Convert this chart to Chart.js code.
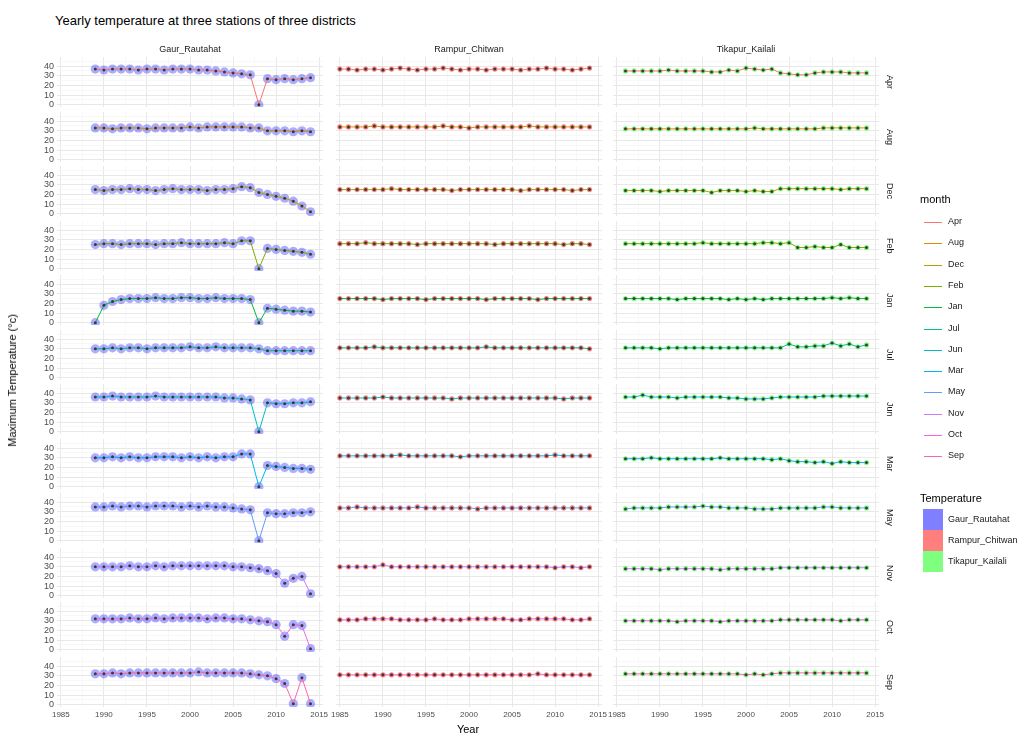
<!DOCTYPE html>
<html>
<head>
<meta charset="utf-8">
<script src="https://cdn.jsdelivr.net/npm/chart.js@4.4.1/dist/chart.umd.min.js"></script>
<style>
  body { margin: 0; background: #fff; font-family: "Liberation Sans", Arial, sans-serif; }
  #wrap { position: relative; width: 1033px; height: 737px; overflow: hidden; }
  #wrap canvas { position: absolute; }
  .txt { position: absolute; color: #1a1a1a; white-space: nowrap; }
  .rstrip { position: absolute; display: flex; align-items: center; justify-content: center; width: 14px; }
  .rstrip span { writing-mode: vertical-rl; font-size: 9px; color: #1a1a1a; }
</style>
</head>
<body>
<div id="wrap"></div>
<script>
// facets
const months = ['Apr', 'Aug', 'Dec', 'Feb', 'Jan', 'Jul', 'Jun', 'Mar', 'May', 'Nov', 'Oct', 'Sep'];
const stations = ['Gaur_Rautahat', 'Rampur_Chitwan', 'Tikapur_Kailali'];
const monthColors = ['#F8766D', '#DE8C00', '#B79F00', '#7CAE00', '#00BA38', '#00C08B',
                     '#00BFC4', '#00B4F0', '#619CFF', '#C77CFF', '#F564E3', '#FF64B0'];
const stationFills = ['rgba(0,0,255,0.5)', 'rgba(255,0,0,0.5)', 'rgba(0,255,0,0.5)'];
const xTickLabels = [1985, 1990, 1995, 2000, 2005, 2010, 2015];
const yTickLabels = [0, 10, 20, 30, 40];

// years per station
const gaurYears = [1989,1990,1991,1992,1993,1994,1995,1996,1997,1998,1999,2000,2001,2002,
                   2003,2004,2005,2006,2007,2008,2009,2010,2011,2012,2013,2014];
const rampurYears = [1985,1986,1987,1988,1989,1990,1991,1992,1993,1994,1995,1996,1997,1998,1999,
                     2000,2001,2002,2003,2004,2005,2006,2007,2008,2009,2010,2011,2012,2013,2014];
const tikapurYears = [1986,1987,1988,1989,1990,1991,1992,1993,1994,1995,1996,1997,1998,1999,
                      2000,2001,2002,2003,2004,2005,2006,2007,2008,2009,2010,2011,2012,2013,2014];

// Gaur, Rautahat
const gaurApr = [37,36,37,37,37,36,37,37,36,37,37,37,36,36,35,34,33,32,31,0,27,26,27,26,27,28];
const gaurAug = [33,33,32,33,33,33,32,33,33,33,33,34,33,34,34,34,34,34,33,33,30,30,30,29,30,29];
const gaurDec = [25,24,25,25,26,25,25,24,25,26,25,25,25,24,25,25,26,28,27,22,20,18,16,13,8,2];
const gaurFeb = [25,26,26,25,26,26,26,25,26,26,27,26,26,26,26,27,26,29,29,0,21,20,19,18,17,15];
const gaurJan = [0,18,22,24,25,25,25,26,25,25,26,26,25,25,26,25,25,25,24,0,15,14,13,12,12,11];
const gaurJul = [30,30,31,30,31,31,30,31,31,31,31,32,31,31,32,31,31,31,31,30,28,28,28,28,28,28];
const gaurJun = [36,36,37,36,36,36,36,37,36,36,36,36,36,36,36,35,35,34,33,0,30,29,29,30,30,31];
const gaurMar = [30,30,31,30,31,30,30,31,31,31,30,31,30,31,30,31,31,34,34,0,22,21,20,19,19,18];
const gaurMay = [35,35,36,35,36,36,35,36,36,36,35,36,35,36,35,35,34,33,32,0,29,28,28,29,29,30];
const gaurNov = [30,30,30,30,31,30,30,31,30,31,31,31,31,31,31,31,30,30,29,28,26,23,13,18,20,2];
const gaurOct = [32,32,32,32,33,32,32,33,32,33,33,33,33,32,33,33,32,32,31,30,29,26,14,26,25,1];
const gaurSep = [32,32,33,32,33,33,33,33,33,33,33,33,34,33,33,33,33,33,32,31,30,27,22,1,28,1];

// Rampur, Chitwan
const rampurApr = [37,37,36,37,37,36,37,38,37,36,37,37,38,37,36,37,37,36,37,37,37,36,37,37,38,37,37,36,37,38];
const rampurAug = [34,34,34,34,35,34,34,34,34,34,34,34,35,34,34,33,34,34,34,34,34,34,35,34,34,34,34,34,34,34];
const rampurDec = [25,25,25,25,25,25,26,25,25,25,25,25,25,24,25,25,25,25,25,25,25,24,25,25,25,25,25,24,25,25];
const rampurFeb = [26,26,26,27,26,26,26,26,26,25,26,26,26,26,26,26,26,26,25,26,26,26,26,26,26,26,25,26,26,25];
const rampurJan = [25,25,25,25,25,24,25,25,25,25,24,25,25,25,25,25,25,24,25,25,25,25,25,24,25,25,25,25,25,25];
const rampurJul = [31,31,31,31,32,31,31,31,31,31,31,31,31,31,31,31,31,32,31,31,31,31,31,31,31,31,31,31,31,30];
const rampurJun = [35,35,35,35,35,36,35,35,35,35,35,35,35,34,35,35,35,35,35,35,35,35,35,35,35,35,34,35,35,35];
const rampurMar = [32,32,32,32,32,32,32,33,32,32,32,32,32,32,31,32,32,32,32,32,32,32,32,32,32,33,32,32,32,32];
const rampurMay = [34,34,35,34,34,34,34,34,34,35,34,34,34,34,34,34,33,34,34,34,34,34,34,34,34,34,34,34,34,34];
const rampurNov = [30,30,30,30,30,32,30,30,30,30,30,30,30,30,30,30,30,30,30,30,30,30,30,30,30,29,30,30,29,30];
const rampurOct = [31,31,31,32,32,32,32,31,31,31,31,32,31,31,31,32,32,32,32,32,31,31,32,32,32,32,32,31,31,32];
const rampurSep = [31,31,31,31,31,31,31,31,31,31,31,31,31,31,31,31,31,31,31,31,31,31,31,32,31,31,31,31,31,31];

// Tikapur, Kailali
const tikapurApr = [35,35,35,35,35,36,35,35,35,35,34,34,36,35,38,37,36,37,33,32,31,31,33,34,34,34,33,33,33];
const tikapurAug = [32,32,32,32,32,32,32,32,32,32,32,32,32,32,32,33,32,32,32,32,32,32,32,33,33,33,33,33,33];
const tikapurDec = [24,24,24,24,23,24,24,24,24,24,22,24,24,24,23,24,23,23,26,26,26,26,26,26,26,25,26,26,26];
const tikapurFeb = [26,26,26,26,26,26,26,26,26,27,26,26,26,26,26,26,27,27,26,27,22,22,23,22,22,25,22,22,22];
const tikapurJan = [25,25,25,25,25,25,24,25,25,25,25,25,24,25,24,25,24,25,25,25,25,25,25,25,26,25,26,25,25];
const tikapurJul = [31,31,31,31,30,31,31,31,31,31,31,31,31,31,31,31,31,31,31,35,32,32,33,33,36,33,35,32,34];
const tikapurJun = [36,36,38,36,36,36,35,36,36,36,36,36,35,35,34,34,34,35,36,36,36,36,36,37,37,37,37,37,37];
const tikapurMar = [29,29,29,30,29,29,29,29,29,29,29,30,29,29,29,29,29,28,29,27,26,26,25,26,24,26,25,25,25];
const tikapurMay = [33,34,34,34,34,35,35,35,35,36,35,35,34,34,34,33,33,33,34,34,34,34,34,35,35,34,34,34,34];
const tikapurNov = [28,28,28,28,27,28,28,28,28,28,28,27,28,28,28,28,28,28,29,29,29,29,29,29,29,29,29,29,29];
const tikapurOct = [30,30,30,30,30,30,29,30,30,30,30,29,30,30,30,30,30,30,31,31,31,31,31,31,31,30,31,31,31];
const tikapurSep = [32,32,32,32,32,32,32,32,32,32,32,32,32,32,31,32,31,32,33,33,33,33,33,33,33,33,33,33,33];

const stationYears = [gaurYears, rampurYears, tikapurYears];
const stationValues = [
  [gaurApr, gaurAug, gaurDec, gaurFeb, gaurJan, gaurJul, gaurJun, gaurMar, gaurMay, gaurNov, gaurOct, gaurSep],
  [rampurApr, rampurAug, rampurDec, rampurFeb, rampurJan, rampurJul, rampurJun, rampurMar, rampurMay, rampurNov, rampurOct, rampurSep],
  [tikapurApr, tikapurAug, tikapurDec, tikapurFeb, tikapurJan, tikapurJul, tikapurJun, tikapurMar, tikapurMay, tikapurNov, tikapurOct, tikapurSep]
];

// layout of the facet grid
const PANEL_X = [57, 336, 613];
const PANEL_W = 266;
const TOP0 = 57;
const PITCH = 54.5;
const PANEL_H = 50;
const M = 14;          // canvas margin so edge labels are not cut
const YAX_W = 30;
const XAX_H = 16;

// grid values: labelled ticks plus the minor lines half way between
const xGrid = [];
xTickLabels.forEach((v, i) => { xGrid.push(v); if (i < xTickLabels.length - 1) xGrid.push(v + 2.5); });
const yGrid = [];
yTickLabels.forEach(v => { yGrid.push(v); yGrid.push(v + 5); });

const wrap = document.getElementById('wrap');

function addText(txt, css) {
  const d = document.createElement('div');
  d.className = 'txt';
  d.textContent = txt;
  Object.assign(d.style, css);
  wrap.appendChild(d);
  return d;
}

months.forEach((m, r) => {
  stations.forEach((s, c) => {
    const left = c === 0;
    const bottom = r === months.length - 1;
    const cv = document.createElement('canvas');
    const extraL = left ? YAX_W : 0;
    const extraB = bottom ? XAX_H : 0;
    const top = Math.round(TOP0 + r * PITCH);
    cv.width = PANEL_W + 2 * M + extraL;
    cv.height = PANEL_H + 2 * M + extraB;
    cv.style.left = (PANEL_X[c] - M - extraL) + 'px';
    cv.style.top = (top - M) + 'px';
    wrap.appendChild(cv);

    const pts = stationYears[c].map((yr, i) => ({ x: yr, y: stationValues[c][r][i] }));

    new Chart(cv, {
      type: 'line',
      data: {
        datasets: [
          {
            data: pts,
            borderColor: monthColors[r],
            borderWidth: 1,
            pointRadius: 1.5,
            pointBackgroundColor: '#3a3a3a',
            pointBorderWidth: 0,
            order: 0
          },
          {
            data: pts,
            showLine: false,
            pointRadius: left ? 4.6 : 2.6,
            pointBackgroundColor: left ? 'rgba(40,40,255,0.38)' : stationFills[c],
            pointBorderWidth: 0,
            order: 1
          }
        ]
      },
      options: {
        responsive: false,
        animation: false,
        events: [],
        layout: { padding: M },
        plugins: { legend: { display: false }, tooltip: { enabled: false } },
        scales: {
          x: {
            type: 'linear',
            min: 1984.55,
            max: 2015.45,
            border: { display: false },
            grid: {
              drawTicks: false,
              color: ctx => xTickLabels.includes(ctx.tick.value) ? '#e8e8e8' : '#f3f3f3',
              lineWidth: ctx => xTickLabels.includes(ctx.tick.value) ? 1 : 0.6
            },
            afterBuildTicks: sc => { sc.ticks = xGrid.map(v => ({ value: v })); },
            ticks: {
              display: bottom,
              autoSkip: false,
              maxRotation: 0,
              padding: 3,
              color: '#4d4d4d',
              font: { family: 'Liberation Sans', size: 8 },
              callback: v => xTickLabels.includes(v) ? String(v) : ''
            },
            afterFit: sc => { sc.height = bottom ? XAX_H : 0; sc.paddingLeft = 0; sc.paddingRight = 0; }
          },
          y: {
            min: -2.4,
            max: 49.5,
            border: { display: false },
            grid: {
              drawTicks: false,
              color: ctx => yTickLabels.includes(ctx.tick.value) ? '#e8e8e8' : '#f3f3f3',
              lineWidth: ctx => yTickLabels.includes(ctx.tick.value) ? 1 : 0.6
            },
            afterBuildTicks: sc => { sc.ticks = yGrid.map(v => ({ value: v })); },
            ticks: {
              display: left,
              autoSkip: false,
              padding: 3,
              color: '#4d4d4d',
              font: { family: 'Liberation Sans', size: 9 },
              callback: v => yTickLabels.includes(v) ? String(v) : ''
            },
            afterFit: sc => { sc.width = left ? YAX_W : 0; sc.paddingTop = 0; sc.paddingBottom = 0; }
          }
        }
      }
    });
  });

  // right strip (month)
  const st = document.createElement('div');
  st.className = 'rstrip';
  st.style.left = (PANEL_X[2] + PANEL_W + 4) + 'px';
  st.style.top = Math.round(TOP0 + r * PITCH) + 'px';
  st.style.height = PANEL_H + 'px';
  const sp = document.createElement('span');
  sp.textContent = m;
  st.appendChild(sp);
  wrap.appendChild(st);
});

// top strips (station)
stations.forEach((s, c) => {
  addText(s, { left: PANEL_X[c] + 'px', width: PANEL_W + 'px', textAlign: 'center', top: '44px', fontSize: '9px' });
});

// titles
addText('Yearly temperature at three stations of three districts', { left: '55px', top: '13px', fontSize: '13px', color: '#000' });
addText('Year', { left: PANEL_X[0] + 'px', width: (PANEL_X[2] + PANEL_W - PANEL_X[0]) + 'px', textAlign: 'center', top: '723px', fontSize: '11px', color: '#000' });
const yt = addText('Maximum Temperature (°c)', { left: '0px', top: '0px', fontSize: '11px', color: '#000' });
const ymid = (TOP0 + TOP0 + 11 * PITCH + PANEL_H) / 2;
yt.style.transformOrigin = '0 0';
yt.style.transform = 'translate(6px,' + (ymid + 65) + 'px) rotate(-90deg)';

// legend: month
addText('month', { left: '920px', top: '193px', fontSize: '11px', color: '#000' });
months.forEach((m, i) => {
  const y = 222 + i * 21.3;
  const ln = document.createElement('div');
  Object.assign(ln.style, { position: 'absolute', left: '924px', top: Math.round(y) + 'px', width: '18px', height: '1px', background: monthColors[i] });
  wrap.appendChild(ln);
  addText(m, { left: '948px', top: Math.round(y - 6) + 'px', fontSize: '9px' });
});

// legend: Temperature
addText('Temperature', { left: '920px', top: '492px', fontSize: '11px', color: '#000' });
stations.forEach((s, i) => {
  const y = 509 + i * 21;
  const bx = document.createElement('div');
  Object.assign(bx.style, { position: 'absolute', left: '923px', top: y + 'px', width: '20px', height: '21px', background: stationFills[i] });
  wrap.appendChild(bx);
  addText(s, { left: '948px', top: (y + 5) + 'px', fontSize: '9px' });
});
</script>
</body>
</html>
